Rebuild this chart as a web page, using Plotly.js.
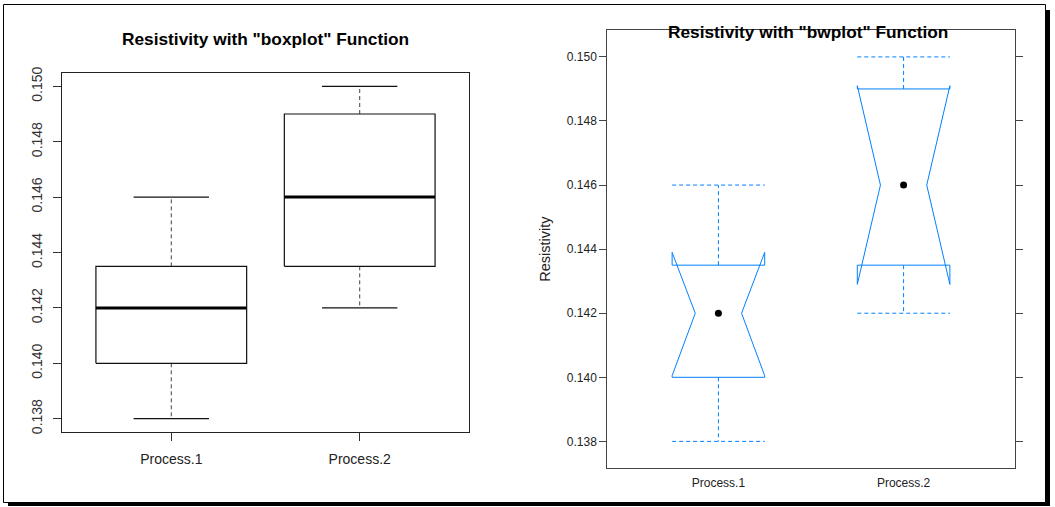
<!DOCTYPE html>
<html>
<head>
<meta charset="utf-8">
<script src="https://cdn.plot.ly/plotly-3.0.1.min.js"></script>
<style>
  html, body { margin: 0; padding: 0; background: #ffffff; }
  #chart { width: 1055px; height: 507px; }
</style>
</head>
<body>
<div id="chart"></div>
<script>
// Resistivity summary statistics for the two processes
const categories = ['Process.1', 'Process.2'];
const minVals    = [0.138, 0.142];
const q1Vals     = [0.140, 0.1435];
const medVals    = [0.142, 0.146];
const q3Vals     = [0.1435, 0.149];
const maxVals    = [0.146, 0.150];
// notch limits around the median (bwplot panel)
const notchLow   = [0.14005, 0.1429];
const notchHigh  = [0.1439, 0.1491];
const yTicks     = [0.138, 0.140, 0.142, 0.144, 0.146, 0.148, 0.150];

const W = 1055, H = 507;
const px = v => v / W;            // horizontal pixel -> paper
const py = v => 1 - v / H;        // vertical pixel -> paper

const FONT = 'Liberation Sans, Arial, sans-serif';
const pos = categories.map((c, i) => i + 1);

// Collect line segments (separated by nulls) for one scatter trace
function segs(build) {
  const xs = [], ys = [];
  pos.forEach((p, i) => {
    build(p, i).forEach(path => {
      path.forEach(pt => { xs.push(pt[0]); ys.push(pt[1]); });
      xs.push(null); ys.push(null);
    });
  });
  return { x: xs, y: ys };
}

function lineTrace(data, xa, ya, line) {
  return Object.assign({ type: 'scatter', mode: 'lines', xaxis: xa, yaxis: ya,
    line: line, hoverinfo: 'skip', showlegend: false, connectgaps: false }, data);
}

// ---- left panel: classic boxplot ----
const bHalf = 0.4, sHalf = 0.2;
const leftTraces = [
  lineTrace(segs((p, i) => [
    [[p, q3Vals[i]], [p, maxVals[i]]],
    [[p, q1Vals[i]], [p, minVals[i]]]
  ]), 'x', 'y', { color: '#444', width: 1, dash: '4px,3px' }),
  lineTrace(segs((p, i) => [
    [[p - sHalf, maxVals[i]], [p + sHalf, maxVals[i]]],
    [[p - sHalf, minVals[i]], [p + sHalf, minVals[i]]]
  ]), 'x', 'y', { color: '#111', width: 1.2 }),
  lineTrace(segs((p, i) => [
    [[p - bHalf, q1Vals[i]], [p + bHalf, q1Vals[i]], [p + bHalf, q3Vals[i]],
     [p - bHalf, q3Vals[i]], [p - bHalf, q1Vals[i]]]
  ]), 'x', 'y', { color: '#111', width: 1.2 }),
  lineTrace(segs((p, i) => [
    [[p - bHalf, medVals[i]], [p + bHalf, medVals[i]]]
  ]), 'x', 'y', { color: '#000', width: 3 })
];

// ---- right panel: notched bwplot ----
const nHalf = 0.25, iHalf = 0.125;
const blue = '#0080ff';
const rightTraces = [
  lineTrace(segs((p, i) => [
    [[p, q3Vals[i]], [p, maxVals[i]]],
    [[p, q1Vals[i]], [p, minVals[i]]],
    [[p - nHalf, maxVals[i]], [p + nHalf, maxVals[i]]],
    [[p - nHalf, minVals[i]], [p + nHalf, minVals[i]]]
  ]), 'x2', 'y2', { color: blue, width: 1, dash: '4px,3px' }),
  lineTrace(segs((p, i) => [[
    [p - nHalf, q1Vals[i]], [p - nHalf, notchLow[i]], [p - iHalf, medVals[i]],
    [p - nHalf, notchHigh[i]], [p - nHalf, q3Vals[i]], [p + nHalf, q3Vals[i]],
    [p + nHalf, notchHigh[i]], [p + iHalf, medVals[i]], [p + nHalf, notchLow[i]],
    [p + nHalf, q1Vals[i]], [p - nHalf, q1Vals[i]]
  ]]), 'x2', 'y2', { color: blue, width: 1 }),
  { type: 'scatter', mode: 'markers', xaxis: 'x2', yaxis: 'y2', x: pos, y: medVals,
    marker: { color: '#000', size: 7 }, hoverinfo: 'skip', showlegend: false }
];

const tickFmt = v => v.toFixed(3);

const layout = {
  width: W, height: H,
  margin: { l: 0, r: 0, t: 0, b: 0 },
  paper_bgcolor: '#ffffff', plot_bgcolor: '#ffffff',
  hovermode: false, showlegend: false,
  font: { family: FONT, color: '#222' },
  xaxis: {
    domain: [px(62), px(469)], range: [0.42, 2.58], anchor: 'y',
    tickvals: pos, ticktext: categories, ticks: 'outside', ticklen: 8,
    tickcolor: '#333', showgrid: false, zeroline: false,
    showline: true, mirror: true, linecolor: '#222', linewidth: 1,
    tickfont: { size: 14, color: '#222' }, ticklabelstandoff: 6
  },
  yaxis: {
    domain: [py(432), py(73)], range: [0.13752, 0.15048], anchor: 'x',
    tickvals: yTicks, ticktext: yTicks.map(tickFmt), tickangle: -90,
    ticks: 'outside', ticklen: 8, tickcolor: '#333', showgrid: false, zeroline: false,
    showline: true, mirror: true, linecolor: '#222', linewidth: 1,
    tickfont: { size: 14, color: '#333' }, ticklabelstandoff: 5
  },
  xaxis2: {
    domain: [px(607.3), px(1014.7)], range: [0.4, 2.6], anchor: 'y2',
    tickvals: pos, ticktext: categories, ticks: '',
    showgrid: false, zeroline: false,
    showline: true, mirror: true, linecolor: '#444', linewidth: 1,
    tickfont: { size: 12, color: '#222' }, ticklabelstandoff: 3
  },
  yaxis2: {
    domain: [py(468.3), py(30)], range: [0.13716, 0.15084], anchor: 'x2',
    tickvals: yTicks, ticktext: yTicks.map(tickFmt),
    ticks: 'outside', ticklen: 7, tickcolor: '#444', showgrid: false, zeroline: false,
    showline: true, mirror: 'ticks', linecolor: '#444', linewidth: 1,
    tickfont: { size: 12, color: '#222' },
    title: { text: 'Resistivity', font: { size: 14.5, color: '#222' }, standoff: 12 }
  },
  annotations: [
    { text: 'Resistivity with "boxplot" Function', xref: 'paper', yref: 'paper',
      x: px(265.5), y: py(38.5), xanchor: 'center', yanchor: 'middle', showarrow: false,
      font: { family: FONT, size: 17.3, weight: 700, color: '#000' } },
    { text: 'Resistivity with "bwplot" Function', xref: 'paper', yref: 'paper',
      x: px(807.8), y: py(31.7), xanchor: 'center', yanchor: 'middle', showarrow: false,
      font: { family: FONT, size: 17.3, weight: 700, color: '#000' } }
  ],
  shapes: [
    // drop shadow
    { type: 'rect', xref: 'paper', yref: 'paper', x0: px(1046), x1: px(1050),
      y0: py(506), y1: py(10), fillcolor: '#000', line: { width: 0 }, layer: 'below' },
    { type: 'rect', xref: 'paper', yref: 'paper', x0: px(8), x1: px(1050),
      y0: py(506), y1: py(502.5), fillcolor: '#000', line: { width: 0 }, layer: 'below' },
    // outer frame
    { type: 'rect', xref: 'paper', yref: 'paper', x0: px(3.5), x1: px(1045.5),
      y0: py(502.5), y1: py(4.5), line: { color: '#000', width: 1 }, layer: 'below' }
  ]
};

Plotly.newPlot('chart', leftTraces.concat(rightTraces), layout,
  { displayModeBar: false, staticPlot: true });
</script>
</body>
</html>
